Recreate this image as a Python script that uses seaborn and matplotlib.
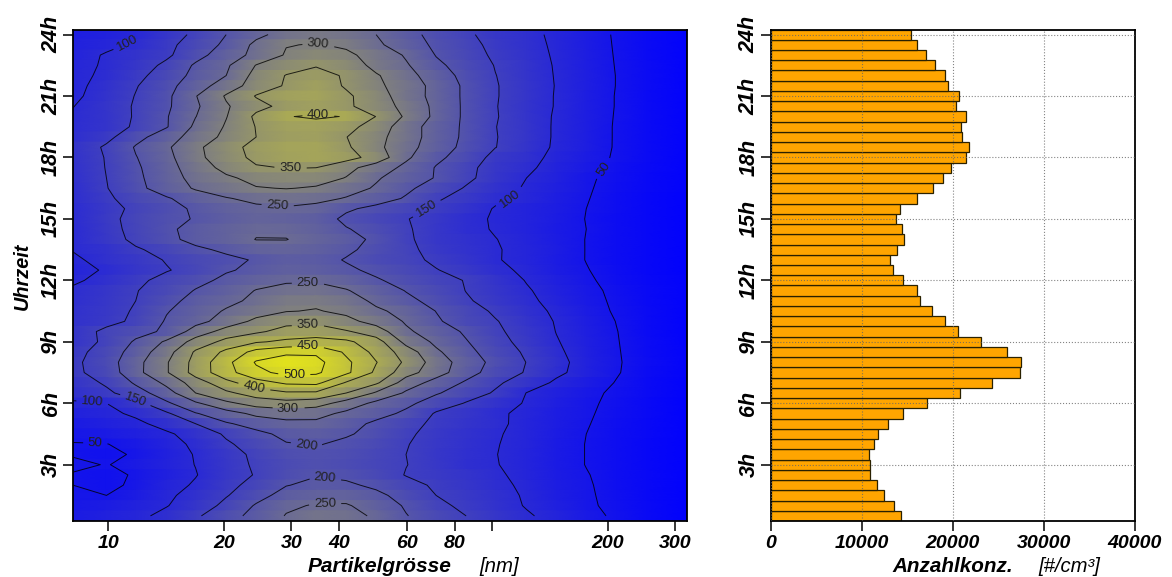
import numpy as np
import pandas as pd
import matplotlib
matplotlib.use('Agg')
import matplotlib.pyplot as plt
from matplotlib.colors import LinearSegmentedColormap
import seaborn as sns

sizes = [8.1, 9.9, 11.8, 14.2, 16.9, 20.3, 24.3, 29.1, 34.8, 41.7, 49.9,
         59.7, 71.5, 85.6, 102, 123, 147, 176, 211, 252, 322]
# half hour rows, written from 24h down to 0.5h
hours = [24 - 0.5 * i for i in range(48)]
grid = [
    [72, 82, 95, 128, 160, 200, 238, 270, 285, 272, 250, 217, 183, 158, 131, 113, 90, 69, 45, 27, 9],
    [78, 90, 107, 138, 173, 210, 262, 298, 303, 292, 258, 226, 190, 165, 137, 116, 92, 70, 46, 28, 9],
    [84, 104, 120, 142, 183, 228, 263, 305, 322, 310, 280, 245, 198, 170, 142, 119, 94, 71, 47, 28, 9],
    [90, 104, 128, 160, 207, 243, 302, 330, 347, 328, 285, 255, 210, 178, 148, 122, 96, 72, 48, 29, 9],
    [92, 106, 138, 172, 215, 250, 318, 352, 365, 345, 305, 266, 225, 184, 151, 124, 97, 73, 49, 29, 9],
    [90, 115, 147, 185, 229, 274, 324, 355, 375, 345, 310, 275, 235, 190, 153, 125, 98, 73, 49, 29, 9],
    [92, 120, 152, 190, 248, 305, 353, 378, 385, 358, 322, 274, 235, 190, 153, 125, 97, 72, 48, 28, 9],
    [99, 125, 155, 192, 243, 295, 335, 365, 375, 358, 325, 285, 238, 190, 152, 124, 97, 72, 48, 28, 9],
    [105, 122, 155, 197, 249, 298, 360, 398, 406, 398, 349, 292, 238, 190, 153, 123, 95, 72, 47, 28, 9],
    [107, 124, 158, 197, 260, 305, 352, 378, 382, 365, 328, 272, 228, 191, 151, 125, 94, 72, 46, 28, 9],
    [108, 137, 185, 227, 273, 312, 350, 372, 375, 351, 315, 272, 228, 190, 152, 125, 94, 72, 46, 28, 9],
    [120, 157, 204, 243, 290, 332, 366, 385, 388, 357, 312, 266, 225, 186, 151, 123, 93, 71, 46, 28, 9],
    [118, 153, 198, 237, 288, 328, 362, 382, 388, 368, 330, 258, 210, 178, 135, 115, 88, 66, 45, 27, 9],
    [115, 152, 193, 233, 275, 315, 345, 352, 350, 315, 275, 238, 197, 162, 130, 108, 83, 62, 42, 25, 8],
    [113, 150, 190, 230, 265, 292, 315, 323, 320, 298, 255, 225, 197, 160, 128, 100, 80, 56, 38, 23, 8],
    [110, 148, 187, 225, 255, 275, 297, 302, 295, 268, 245, 210, 175, 146, 118, 95, 75, 54, 36, 22, 8],
    [108, 142, 172, 195, 225, 247, 262, 268, 262, 247, 222, 195, 155, 135, 108, 92, 72, 52, 34, 21, 7],
    [105, 135, 160, 185, 207, 228, 240, 245, 237, 207, 187, 165, 143, 120, 97, 84, 68, 50, 33, 20, 7],
    [105, 138, 165, 188, 203, 222, 235, 232, 222, 190, 170, 152, 132, 110, 96, 83, 66, 49, 32, 20, 7],
    [103, 135, 164, 192, 215, 232, 245, 243, 228, 203, 182, 155, 130, 110, 97, 84, 65, 50, 32, 20, 7],
    [102, 132, 160, 188, 215, 232, 251, 251, 235, 217, 190, 157, 130, 115, 101, 86, 67, 49, 31, 19, 7],
    [102, 118, 145, 165, 190, 210, 230, 235, 225, 208, 185, 160, 135, 118, 103, 88, 68, 49, 31, 19, 7],
    [93, 115, 133, 153, 172, 187, 205, 220, 215, 197, 178, 162, 142, 124, 103, 87, 67, 49, 31, 19, 7],
    [88, 104, 128, 147, 167, 195, 212, 225, 222, 208, 190, 172, 152, 133, 110, 92, 70, 52, 33, 20, 7],
    [92, 117, 140, 165, 185, 212, 232, 243, 245, 232, 205, 183, 163, 148, 122, 98, 76, 56, 36, 22, 8],
    [108, 127, 148, 172, 203, 227, 252, 267, 268, 253, 227, 198, 175, 149, 127, 104, 82, 60, 41, 24, 9],
    [112, 130, 150, 185, 217, 237, 262, 287, 290, 272, 240, 212, 184, 155, 133, 109, 86, 63, 43, 25, 9],
    [115, 133, 155, 197, 226, 255, 278, 298, 303, 290, 258, 235, 199, 170, 143, 117, 92, 67, 45, 26, 9],
    [118, 135, 160, 205, 234, 272, 312, 335, 340, 313, 282, 245, 207, 172, 153, 123, 97, 71, 49, 27, 9],
    [125, 162, 183, 209, 273, 320, 342, 368, 372, 355, 325, 258, 225, 193, 158, 130, 99, 74, 51, 28, 9],
    [125, 160, 207, 258, 320, 365, 395, 410, 420, 410, 370, 285, 240, 203, 165, 135, 103, 76, 52, 29, 9],
    [135, 172, 222, 282, 357, 412, 468, 488, 492, 442, 385, 325, 258, 214, 175, 143, 108, 78, 53, 30, 10],
    [140, 178, 235, 296, 368, 437, 505, 530, 515, 460, 402, 340, 276, 225, 186, 149, 113, 82, 54, 31, 10],
    [140, 172, 236, 296, 370, 433, 487, 515, 508, 460, 390, 320, 270, 220, 177, 146, 110, 80, 53, 30, 10],
    [125, 157, 207, 262, 325, 385, 430, 458, 462, 395, 358, 275, 232, 193, 158, 125, 92, 68, 48, 28, 9],
    [115, 140, 178, 230, 300, 340, 375, 393, 392, 350, 293, 243, 205, 172, 145, 99, 78, 59, 43, 26, 8],
    [95, 100, 135, 192, 243, 290, 320, 332, 322, 278, 238, 212, 175, 147, 120, 96, 74, 56, 41, 24, 7],
    [78, 90, 108, 143, 197, 230, 262, 273, 265, 240, 218, 190, 145, 128, 107, 90, 70, 54, 39, 24, 7],
    [65, 78, 90, 117, 150, 195, 218, 236, 240, 218, 190, 165, 140, 122, 108, 88, 68, 52, 37, 23, 7],
    [55, 65, 75, 93, 120, 157, 188, 212, 220, 205, 185, 157, 135, 118, 104, 87, 66, 50, 35, 22, 6],
    [49, 49, 62, 85, 108, 143, 172, 197, 203, 190, 175, 152, 133, 115, 102, 87, 65, 49, 34, 21, 6],
    [47, 42, 54, 78, 103, 132, 160, 183, 192, 183, 168, 150, 131, 113, 101, 86, 65, 49, 34, 21, 6],
    [58, 48, 64, 83, 101, 130, 157, 178, 188, 180, 165, 151, 133, 112, 102, 85, 65, 49, 34, 21, 6],
    [47, 40, 54, 76, 98, 130, 153, 182, 197, 190, 172, 148, 138, 122, 106, 88, 66, 52, 35, 22, 6],
    [50, 40, 58, 85, 105, 138, 165, 198, 213, 208, 190, 165, 143, 128, 110, 92, 68, 54, 36, 22, 6],
    [53, 50, 67, 92, 117, 147, 182, 220, 232, 230, 212, 180, 150, 135, 115, 95, 72, 55, 38, 23, 7],
    [58, 66, 80, 98, 125, 162, 205, 241, 255, 255, 225, 195, 160, 140, 118, 97, 75, 56, 40, 24, 7],
    [65, 78, 90, 112, 143, 183, 215, 253, 272, 265, 243, 202, 175, 150, 127, 105, 85, 62, 43, 25, 7],
]
levels = [50, 100, 150, 200, 250, 300, 350, 400, 450, 500]
label_spots = [(11.4, 23.4), (197, 17.4), (111, 16.1), (67.6, 15.5), (35.2, 23.5),
               (35.2, 20.0), (29.8, 17.5), (27.6, 15.7), (33.1, 11.7), (33.1, 9.7),
               (33.1, 8.7), (30.5, 7.3), (23.9, 6.7), (29.4, 5.8), (11.8, 6.25),
               (9.1, 6.15), (9.25, 4.05), (32.8, 3.85), (36.7, 2.35), (36.7, 1.1)]
conc = [15418, 16113, 17063, 18086, 19145, 19474, 20680, 20351, 21447, 20899, 21045, 21776,
        21447, 19803, 18962, 17793, 16113, 14213, 13774, 14432, 14651, 13884, 13153, 13482,
        14541, 16040, 16368, 17720, 19145, 20570, 23127, 25941, 27475, 27366, 24260, 20753,
        17172, 14541, 12861, 11801, 11363, 10851, 10924, 10924, 11728, 12459, 13555, 14359]
size_ticks = [10, 20, 30, 40, 60, 80, 100, 200, 300]
size_labels = ['10', '20', '30', '40', '60', '80', '', '200', '300']
hour_ticks = [3, 6, 9, 12, 15, 18, 21, 24]
hour_labels = ['3h', '6h', '9h', '12h', '15h', '18h', '21h', '24h']
conc_ticks = [0, 10000, 20000, 30000, 40000]

sns.set_theme(style='white')
plt.rcParams['font.family'] = ['Liberation Sans', 'DejaVu Sans']

W, H = 1172, 577
fig = plt.figure(figsize=(W / 100, H / 100), dpi=100)
ax1 = fig.add_axes([73 / W, 1 - 521 / H, 614 / W, 491.5 / H])
ax2 = fig.add_axes([770.5 / W, 1 - 521 / H, 364.5 / W, 491.5 / H])

# left panel
Z = np.array(grid)
blue_yellow = LinearSegmentedColormap.from_list('by', ['#0000ff', '#ffff00'])
# every row doubled so the colour runs smooth in size but stays banded in time
edges = np.arange(24.25, 0, -0.5)
ax1.pcolormesh(sizes, np.repeat(edges, 2)[1:-1], np.repeat(Z, 2, axis=0), cmap=blue_yellow,
               vmin=0, vmax=600, shading='gouraud', rasterized=True)
ax1.set_xscale('log')
ax1.set_xlim(8.1, 322)
ax1.set_ylim(0.25, 24.25)
cs = ax1.contour(sizes, hours, Z, levels=levels, colors='black', linewidths=0.7, alpha=0.8)
clab = ax1.clabel(cs, fmt='%d', fontsize=9.5, inline=True, manual=label_spots)
for t in clab:
    t.set_color('#222222')

ax1.set_xticks(size_ticks)
ax1.set_xticklabels(size_labels)
ax1.minorticks_off()

# right panel
bars = pd.DataFrame({'hour': hours, 'conc': conc})
sns.barplot(data=bars, x='conc', y='hour', orient='y', native_scale=True, color='orange',
            saturation=1, width=1, edgecolor='#2a2100', linewidth=0.9, ax=ax2)
ax2.set_xlim(0, 40000)
ax2.set_ylim(0.25, 24.25)
ax2.set_xticks(conc_ticks)
ax2.set_xticklabels([str(v) for v in conc_ticks])
ax2.set_xlabel('')
ax2.set_ylabel('')
ax2.grid(True, color='#666666', linestyle=':', linewidth=0.8, alpha=0.8)
ax2.set_axisbelow(False)

for ax in (ax1, ax2):
    ax.set_yticks(hour_ticks)
    ax.set_yticklabels(hour_labels, rotation=90, va='center')
    ax.tick_params(axis='x', which='major', length=7, width=1.1, color='black', bottom=True,
                   labelsize=14, pad=3)
    ax.tick_params(axis='y', which='major', length=7, width=1.1, color='black', left=True,
                   labelsize=15.5, pad=1)
    for lab in ax.get_xticklabels() + ax.get_yticklabels():
        lab.set_fontweight('bold')
        lab.set_fontstyle('italic')
        lab.set_color('black')
    for sp in ax.spines.values():
        sp.set_visible(True)
        sp.set_color('black')
        sp.set_linewidth(1.3)

y_lab = 1 - 567 / H
fig.text(22 / W, 1 - 276 / H, 'Uhrzeit', rotation=90, ha='center', va='center', fontsize=14.3,
         fontweight='bold', fontstyle='italic', color='black')
fig.text(380 / W, y_lab, 'Partikelgrösse', ha='center', va='center', fontsize=15,
         fontweight='bold', fontstyle='italic', color='black')
fig.text(499 / W, y_lab, '[nm]', ha='center', va='center', fontsize=14.7, fontstyle='italic', color='black')
fig.text(953 / W, y_lab, 'Anzahlkonz.', ha='center', va='center', fontsize=14.9,
         fontweight='bold', fontstyle='italic', color='black')
fig.text(1069 / W, y_lab, '[#/cm³]', ha='center', va='center', fontsize=14.6, fontstyle='italic', color='black')

fig.savefig('out.png', dpi=100)
